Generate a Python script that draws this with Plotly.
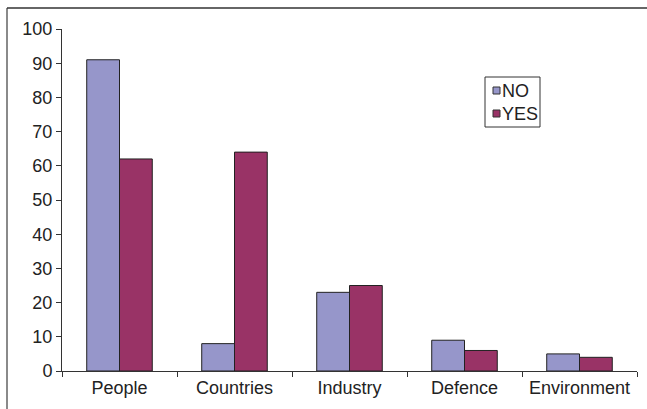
import plotly.graph_objects as go

categories = ["People", "Countries", "Industry", "Defence", "Environment"]
no_values = [91, 8, 23, 9, 5]
yes_values = [62, 64, 25, 6, 4]
y_ticks = [0, 10, 20, 30, 40, 50, 60, 70, 80, 90, 100]

NO_COLOR = "#9696CA"
YES_COLOR = "#993366"
FONT = "Liberation Sans, Arial, sans-serif"
FS = 18

W, H = 647, 409
ML, MR, MT, MB = 62, 10, 29, 38
PW, PH = W - ML - MR, H - MT - MB


def px(x):
    return (x - ML) / PW


def py(y):
    return (H - MB - y) / PH


fig = go.Figure()
fig.add_trace(go.Bar(x=categories, y=no_values, name="NO", marker_color=NO_COLOR,
                     marker_line=dict(color="#222", width=1)))
fig.add_trace(go.Bar(x=categories, y=yes_values, name="YES", marker_color=YES_COLOR,
                     marker_line=dict(color="#222", width=1)))

shapes = [
    # outer frame
    dict(type="line", xref="paper", yref="paper", x0=px(7), x1=px(7), y0=py(8), y1=py(420),
         line=dict(color="#8a8a8a", width=2)),
    dict(type="line", xref="paper", yref="paper", x0=px(7), x1=px(660), y0=py(8), y1=py(8),
         line=dict(color="#333", width=1.5)),
    # legend box
    dict(type="rect", xref="paper", yref="paper", x0=px(485), x1=px(540), y0=py(127), y1=py(77),
         line=dict(color="#333", width=1), fillcolor="white"),
    dict(type="rect", xref="paper", yref="paper", x0=px(493), x1=px(500), y0=py(94), y1=py(87),
         line=dict(color="#333", width=1), fillcolor=NO_COLOR),
    dict(type="rect", xref="paper", yref="paper", x0=px(493), x1=px(500), y0=py(117), y1=py(110),
         line=dict(color="#333", width=1), fillcolor=YES_COLOR),
]
annotations = [
    dict(text="NO", xref="paper", yref="paper", x=px(500), y=py(90.5), xanchor="left",
         yanchor="middle", showarrow=False, font=dict(family=FONT, size=FS, color="#222")),
    dict(text="YES", xref="paper", yref="paper", x=px(500), y=py(113.5), xanchor="left",
         yanchor="middle", showarrow=False, font=dict(family=FONT, size=FS, color="#222")),
]

fig.update_layout(
    width=W, height=H,
    margin=dict(l=ML, r=MR, t=MT, b=MB, pad=0),
    paper_bgcolor="white", plot_bgcolor="white",
    barmode="group", bargap=0.43, bargroupgap=0,
    showlegend=False,
    font=dict(family=FONT, size=FS, color="#222"),
    shapes=shapes, annotations=annotations,
)
fig.update_xaxes(showline=True, linecolor="#333", linewidth=1, ticks="outside",
                 tickson="boundaries", ticklen=5, tickcolor="#333", showgrid=False,
                 tickfont=dict(size=FS))
fig.update_yaxes(range=[0, 100], tickvals=y_ticks, showline=True, linecolor="#333",
                 linewidth=1, ticks="outside", ticklen=5, tickcolor="#333", showgrid=False,
                 zeroline=False, tickfont=dict(size=FS))

fig.write_html("out.html")
